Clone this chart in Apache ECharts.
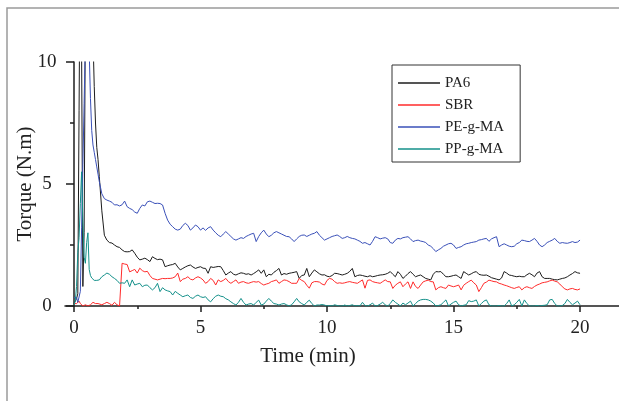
<!DOCTYPE html>
<html>
<head>
<meta charset="utf-8">
<script src="https://cdn.jsdelivr.net/npm/echarts@6/dist/echarts.min.js"></script>
<style>
  html, body { margin: 0; padding: 0; background: #fff; }
  #chart { width: 619px; height: 401px; }
</style>
</head>
<body>
<div id="chart"></div>
<script>
// Sampling grid (min): 0.05 min steps during loading (0–1 min), then 0.1 min steps to 20 min
const times = [];
for (let i = 0; i <= 20; i++) times.push(+(i * 0.05).toFixed(2));
for (let i = 11; i <= 200; i++) times.push(+(i * 0.1).toFixed(1));

// Torque readings (N.m) for each material, aligned with `times`
const pa6 = [
  0.1, 0.2, 0.3, 0.5, 8, 16, 10.5, 0.8, 3, 12, 15, 15, 15, 15, 12.5, 11, 9, 7.5, 6.5, 6.0, 5.3,
  3.9, 2.9, 2.7, 2.6, 2.58, 2.5, 2.43, 2.4, 2.3, 2.23,
  2.22, 2.23, 2.3, 2.16, 2.0, 1.89, 1.92, 1.96, 1.9, 1.82,
  2.02, 1.95, 1.9, 1.92, 1.89, 1.61, 1.65, 1.68, 1.7, 1.75,
  1.6, 1.48, 1.54, 1.6, 1.65, 1.68, 1.6, 1.54, 1.58, 1.61,
  1.55, 1.54, 1.34, 1.61, 1.58, 1.6, 1.62, 1.61, 1.45, 1.27,
  1.35, 1.41, 1.3, 1.27, 1.32, 1.36, 1.34, 1.3, 1.32, 1.27,
  1.33, 1.4, 1.48, 1.34, 1.48, 1.2, 1.3, 1.27, 1.38, 1.45,
  1.54, 1.27, 1.33, 1.3, 1.34, 1.36, 1.38, 1.41, 1.13, 1.25,
  1.27, 1.54, 1.2, 1.35, 1.48, 1.4, 1.32, 1.27, 1.28, 1.22,
  1.2, 1.25, 1.34, 1.33, 1.3, 1.27, 1.3, 1.34, 1.42, 1.54,
  1.2, 1.25, 1.27, 1.25, 1.22, 1.2, 1.24, 1.2, 1.22, 1.25,
  1.27, 1.28, 1.3, 1.34, 1.41, 1.3, 1.2, 1.41, 1.3, 1.13,
  1.22, 1.33, 1.41, 1.3, 1.2, 1.24, 1.27, 1.2, 1.13, 1.1,
  1.07, 1.3, 1.41, 1.4, 1.41, 1.3, 1.2, 1.2, 1.22, 1.25,
  1.27, 1.2, 1.13, 1.41, 1.34, 1.27, 1.32, 1.38, 1.41, 1.3,
  1.27, 1.26, 1.27, 1.22, 1.16, 1.13, 1.1, 1.07, 1.15, 1.41,
  1.35, 1.27, 1.25, 1.22, 1.2, 1.22, 1.2, 1.2, 1.28, 1.34,
  1.28, 1.2, 1.35, 1.41, 1.2, 1.13, 1.13, 1.13, 1.1, 1.08,
  1.07, 1.1, 1.13, 1.15, 1.2, 1.27, 1.33, 1.41, 1.36, 1.34
];

const sbr = [
  0.1, 0.15, 0.1, 0.05, 0.2, 0.1, 0.05, 0.0, 0.0, 0.05, 0.0, 0.0, 0.0, 0.05, 0.1, 0.15, 0.15, 0.1, 0.15, 0.1, 0.12,
  0.05, 0.1, 0.15, 0.1, 0.03, 0.15, 0.05, 0.0, 1.75, 1.72,
  1.7, 1.4, 1.45, 1.5, 1.35, 1.55, 1.45, 1.4, 1.42, 1.25,
  1.13, 1.1, 1.07, 1.1, 1.13, 1.12, 1.13, 1.13, 1.15, 1.2,
  1.35, 1.0, 1.1, 1.13, 1.2, 1.1, 1.07, 1.15, 1.2, 1.15,
  1.07, 0.93, 1.0, 1.13, 1.05, 0.86, 1.07, 1.0, 1.05, 1.13,
  1.0, 0.93, 1.0, 1.07, 0.93, 0.98, 1.0, 0.95, 0.93, 0.97,
  1.0, 0.98, 1.0, 0.92, 0.86, 0.9, 0.93, 1.0, 1.03, 1.07,
  0.93, 1.0, 1.07, 1.05, 1.0, 0.93, 0.93, 0.93, 1.13, 1.05,
  1.0, 0.85, 0.73, 0.95, 1.0, 1.0, 0.98, 0.9, 0.86, 1.05,
  1.13, 1.1, 1.0, 0.93, 0.95, 0.93, 0.95, 0.98, 1.0, 0.97,
  0.95, 0.93, 1.0, 1.07, 0.73, 1.05, 1.07, 1.0, 0.97, 0.95,
  0.93, 1.0, 1.07, 1.0, 0.99, 0.72, 0.85, 0.93, 0.99, 0.79,
  0.9, 0.99, 0.72, 0.99, 0.8, 0.72, 0.86, 0.99, 1.03, 1.06,
  1.0, 0.99, 0.66, 0.75, 0.79, 0.75, 0.72, 0.86, 0.82, 0.79,
  0.82, 0.86, 0.66, 0.85, 0.93, 1.0, 1.06, 0.95, 0.86, 0.59,
  0.75, 0.93, 0.98, 1.06, 1.03, 1.0, 0.99, 0.93, 0.9, 0.86,
  0.83, 0.79, 0.75, 0.72, 0.76, 0.79, 0.66, 0.75, 0.79, 0.75,
  0.72, 0.8, 0.86, 0.9, 0.95, 0.97, 0.99, 1.03, 1.06, 1.02,
  0.99, 0.9, 0.79, 0.7, 0.66, 0.7, 0.72, 0.68, 0.66, 0.7
];

const peGMA = [
  0.35, 0.3, 0.35, 0.15, 0.2, 0.6, 3.2, 5.8, 8.3, 11, 14, 13, 10.5, 8.5, 7.2, 6.6, 6.3, 6.0, 5.7, 5.4, 5.1,
  4.6, 4.4, 4.34, 4.3, 4.25, 4.14, 4.15, 4.1, 4.15, 4.3,
  4.07, 4.0, 3.95, 3.85, 3.8, 4.0, 4.14, 4.1, 4.27, 4.3,
  4.25, 4.2, 4.21, 4.2, 4.14, 3.8, 3.52, 3.35, 3.25, 3.15,
  3.11, 3.15, 3.3, 3.39, 3.3, 3.11, 3.2, 3.32, 3.25, 3.11,
  3.2, 3.1, 3.2, 3.25, 3.11, 3.0, 2.9, 2.84, 2.95, 3.05,
  2.95, 2.85, 2.75, 2.7, 2.75, 2.8, 2.77, 2.85, 2.9, 2.95,
  2.98, 2.64, 2.85, 3.0, 3.11, 2.95, 2.84, 2.9, 3.0, 3.05,
  3.0, 2.95, 2.9, 2.85, 2.84, 2.75, 2.64, 2.75, 2.85, 2.9,
  2.91, 2.85, 2.9, 2.95, 2.98, 3.05, 2.9, 2.8, 2.7, 2.75,
  2.8, 2.85, 2.88, 2.91, 2.85, 2.77, 2.8, 2.85, 2.8, 2.77,
  2.75, 2.7, 2.65, 2.57, 2.6, 2.55, 2.5, 2.65, 2.84, 2.8,
  2.75, 2.78, 2.8, 2.75, 2.6, 2.57, 2.7, 2.77, 2.75, 2.8,
  2.82, 2.84, 2.75, 2.64, 2.68, 2.7, 2.66, 2.64, 2.6, 2.5,
  2.45, 2.35, 2.23, 2.3, 2.36, 2.45, 2.5, 2.55, 2.57, 2.5,
  2.36, 2.4, 2.43, 2.5, 2.55, 2.57, 2.6, 2.62, 2.64, 2.7,
  2.72, 2.75, 2.77, 2.65, 2.75, 2.8, 2.84, 2.43, 2.5, 2.55,
  2.5, 2.45, 2.43, 2.45, 2.55, 2.6, 2.7, 2.68, 2.65, 2.64,
  2.7, 2.77, 2.65, 2.5, 2.43, 2.5, 2.6, 2.65, 2.7, 2.77,
  2.65, 2.57, 2.6, 2.58, 2.57, 2.6, 2.64, 2.6, 2.62, 2.7
];

const ppGMA = [
  0.05, 0.2, 0.8, 2.2, 2.8, 4.2, 5.5, 3.5, 2.0, 1.75, 2.6, 3.0, 1.5, 1.25, 1.15, 1.1, 1.05, 1.05, 1.05, 1.05, 1.07,
  1.2, 1.27, 1.35, 1.3, 1.2, 1.13, 1.05, 0.93, 0.95, 0.93,
  1.07, 0.79, 1.07, 0.86, 0.9, 0.93, 0.79, 0.85, 0.86, 0.75,
  0.66, 0.75, 0.93, 0.59, 0.75, 0.66, 0.62, 0.59, 0.45, 0.6,
  0.52, 0.45, 0.38, 0.42, 0.45, 0.35, 0.31, 0.4, 0.45, 0.38,
  0.35, 0.38, 0.25, 0.17, 0.3, 0.4, 0.45, 0.4, 0.38, 0.3,
  0.25, 0.17, 0.1, 0.04, 0.15, 0.31, 0.15, 0.04, 0.08, 0.1,
  0.04, 0.15, 0.24, 0.04, 0.08, 0.2, 0.31, 0.2, 0.1, 0.08,
  0.04, 0.08, 0.1, 0.05, 0.0, 0.05, 0.17, 0.31, 0.17, 0.1,
  0.04, 0.15, 0.24, 0.1, 0.0, 0.04, 0.04, 0.06, 0.04, 0.0,
  0.02, 0.0, 0.05, 0.02, 0.0, 0.0, 0.04, 0.0, 0.02, 0.05,
  0.0, 0.02, 0.0, 0.15, 0.02, 0.0, 0.05, 0.12, 0.0, 0.02,
  0.08, 0.15, 0.05, 0.0, 0.1, 0.25, 0.15, 0.08, 0.0, 0.12,
  0.05, 0.12, 0.2, 0.0, 0.1, 0.2, 0.25, 0.27, 0.27, 0.25,
  0.2, 0.12, 0.0, 0.02, 0.05, 0.15, 0.25, 0.0, 0.08, 0.15,
  0.2, 0.05, 0.0, 0.03, 0.05, 0.22, 0.18, 0.2, 0.25, 0.0,
  0.1, 0.2, 0.25, 0.05, 0.0, 0.0, 0.0, 0.02, 0.0, 0.0,
  0.1, 0.25, 0.0, 0.05, 0.15, 0.27, 0.0, 0.25, 0.1, 0.0,
  0.0, 0.0, 0.02, 0.0, 0.02, 0.03, 0.05, 0.25, 0.27, 0.1,
  0.0, 0.0, 0.02, 0.1, 0.27, 0.15, 0.05, 0.12, 0.2, 0.05
];

const seriesNames = ['PA6', 'SBR', 'PE-g-MA', 'PP-g-MA'];
const seriesValues = [pa6, sbr, peGMA, ppGMA];
const seriesColors = ['#1c1c1c', '#ff2b2b', '#3a50b8', '#14908a'];

const xMajorTicks = [0, 5, 10, 15, 20];
const xMinorTicks = [2.5, 7.5, 12.5, 17.5];
const X_MIN = -0.356, X_MAX = 21.54;

const serifFont = '"Liberation Serif", "DejaVu Serif", serif';
const axisColor = '#1e1e1e';

const chart = echarts.init(document.getElementById('chart'), null, { renderer: 'canvas' });

chart.setOption({
  animation: false,
  backgroundColor: '#ffffff',
  graphic: [{
    type: 'rect',
    shape: { x: 7, y: 8, width: 700, height: 500 },
    style: { fill: 'none', stroke: '#9a9a9a', lineWidth: 1.5 },
    silent: true,
    z: 0
  }],
  grid: { left: 65, right: 0, top: 62, bottom: 95, containLabel: false, outerBoundsMode: 'none' },
  legend: {
    orient: 'vertical',
    left: 392,
    top: 65,
    padding: [10.5, 16, 5.5, 6],
    icon: 'rect',
    itemWidth: 42,
    itemHeight: 1.5,
    itemGap: 7,
    borderColor: '#333',
    borderWidth: 1,
    textStyle: { fontFamily: serifFont, fontSize: 15, lineHeight: 15, color: '#222' },
    data: seriesNames
  },
  xAxis: [{
    type: 'value',
    min: X_MIN,
    max: X_MAX,
    position: 'bottom',
    name: 'Time (min)',
    nameLocation: 'middle',
    nameGap: 40,
    nameMoveOverlap: false,
    nameTextStyle: { fontFamily: serifFont, fontSize: 21, color: '#222', padding: [0, 68, 0, 0] },
    axisLine: { show: true, lineStyle: { color: axisColor, width: 1.5 } },
    axisTick: { show: true, inside: false, length: 6, customValues: xMajorTicks, lineStyle: { color: axisColor, width: 1.5 } },
    axisLabel: { show: true, customValues: xMajorTicks, margin: 13, fontFamily: serifFont, fontSize: 19, color: '#222' },
    splitLine: { show: false }
  }, {
    type: 'value',
    min: X_MIN,
    max: X_MAX,
    position: 'bottom',
    axisLine: { show: false },
    axisTick: { show: true, inside: false, length: 3, customValues: xMinorTicks, lineStyle: { color: axisColor, width: 1.5 } },
    axisLabel: { show: false },
    splitLine: { show: false }
  }],
  yAxis: {
    type: 'value',
    min: 0,
    max: 10,
    interval: 5,
    name: 'Torque (N.m)',
    nameLocation: 'middle',
    nameRotate: 90,
    nameGap: 29,
    nameMoveOverlap: false,
    nameTextStyle: { fontFamily: serifFont, fontSize: 21, color: '#222' },
    axisLine: { show: true, onZero: true, lineStyle: { color: axisColor, width: 1.5 } },
    axisTick: { show: true, inside: false, length: 8, lineStyle: { color: axisColor, width: 1.5 } },
    minorTick: { show: true, splitNumber: 2, length: 4, lineStyle: { color: axisColor, width: 1.5 } },
    axisLabel: { show: true, margin: 18, align: 'center', fontFamily: serifFont, fontSize: 19, color: '#222' },
    splitLine: { show: false }
  },
  series: seriesNames.map((name, k) => ({
    name: name,
    type: 'line',
    xAxisIndex: 0,
    symbol: 'none',
    clip: true,
    color: seriesColors[k],
    lineStyle: { width: 1, color: seriesColors[k] },
    data: times.map((t, i) => [t, seriesValues[k][i]])
  }))
});
</script>
</body>
</html>
